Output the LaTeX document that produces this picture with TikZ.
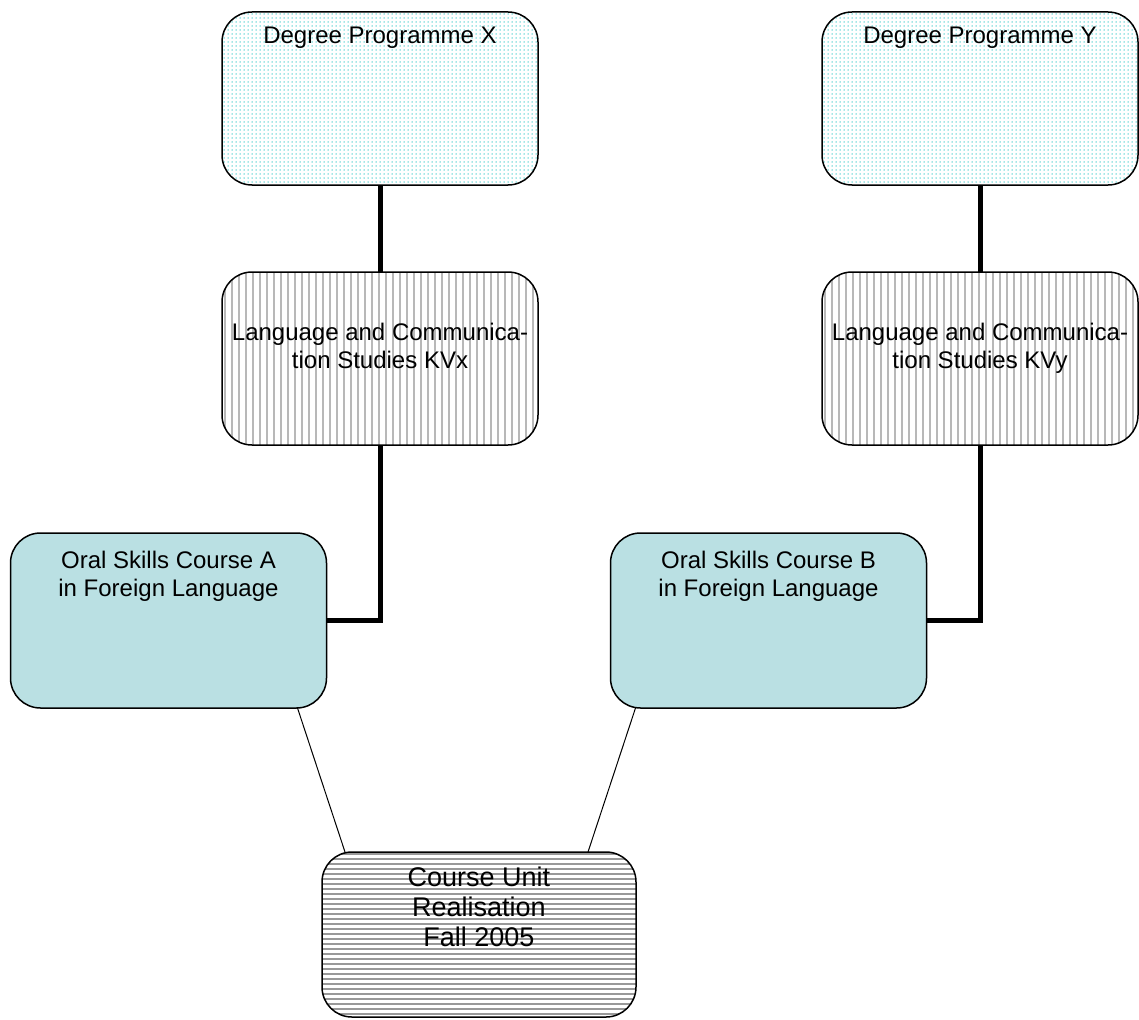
\documentclass[tikz,border=0pt]{standalone}
\usepackage{fontspec}
\setmainfont{Liberation Sans}
\usetikzlibrary{positioning,calc}

\definecolor{oralblue}{RGB}{186,224,227}
\definecolor{dotcyan}{RGB}{70,205,205}

\tikzset{
  unitbox/.style={draw, line width=1.5pt, rounded corners=30pt,
    minimum width=316pt, minimum height=173pt, inner sep=0pt, outer sep=0pt},
  degbox/.style={unitbox, path picture={
      \foreach \px in {2,6,...,318}
        \foreach \py in {2,6,...,174}
          \fill[dotcyan] ($(path picture bounding box.north west)+(\px,\py)$) circle (0.75pt);}},
  studybox/.style={unitbox, path picture={
      \foreach \px in {3,10,...,318}
        \draw[black!28, line width=1.4pt] ($(path picture bounding box.north west)+(\px,0)$) -- +(0,176);}},
  oralbox/.style={unitbox, fill=oralblue, minimum height=175pt},
  realbox/.style={unitbox, minimum width=314pt, minimum height=165pt, path picture={
      \foreach \py in {2,7,...,167}
        \draw[black!40, line width=1.7pt] ($(path picture bounding box.north west)+(0,\py)$) -- +(316,0);}},
  boxtext/.style={font=\fontsize{24}{28}\selectfont, align=center,
    inner sep=0pt, anchor=north},
  bigtext/.style={boxtext, font=\fontsize{27}{30}\selectfont},
  tree/.style={line width=5pt},
  link/.style={line width=1pt}
}

\begin{document}
\begin{tikzpicture}[x=1pt,y=-1pt]
\useasboundingbox (0,0) rectangle (1139,1019);

% Degree programmes
\node[degbox, label={[boxtext,yshift=-15pt]north:Degree Programme X}] (degx) at (380,98.5) {};
\node[degbox, label={[boxtext,yshift=-15pt]north:Degree Programme Y}] (degy) at (980,98.5) {};

% Study modules
\node[studybox, label={[boxtext,yshift=-51pt]north:Language and Communica-\\tion Studies KVx}] (lcsx) at (380,358.5) {};
\node[studybox, label={[boxtext,yshift=-51pt]north:Language and Communica-\\tion Studies KVy}] (lcsy) at (980,358.5) {};

% Courses
\node[oralbox, label={[boxtext,yshift=-18pt]north:Oral Skills Course A\\in Foreign Language}] (orala) at (168.5,620.5) {};
\node[oralbox, label={[boxtext,yshift=-18pt]north:Oral Skills Course B\\in Foreign Language}] (oralb) at (768.5,620.5) {};

% Realisation
\node[realbox, label={[bigtext,yshift=-15pt]north:Course Unit\\Realisation\\Fall 2005}] (real) at (479,934.5) {};

% Connectors
\draw[tree] (degx) -- (lcsx);
\draw[tree] (degy) -- (lcsy);
\draw[tree] (lcsx) |- (orala);
\draw[tree] (lcsy) |- (oralb);
\draw[link] ([xshift=-29pt]orala.south east) -- ([xshift=23pt]real.north west);
\draw[link] ([xshift=25pt]oralb.south west) -- ([xshift=-48pt]real.north east);
\end{tikzpicture}
\end{document}
